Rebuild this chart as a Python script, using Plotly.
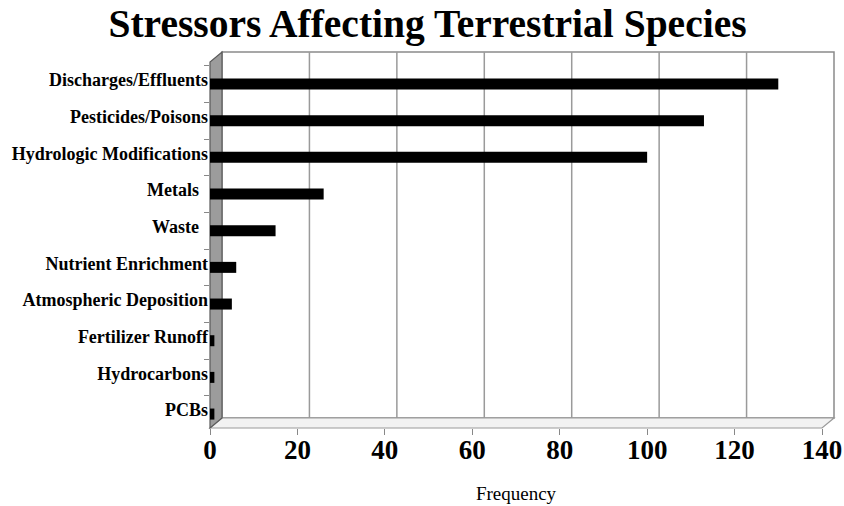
import plotly.graph_objects as go

categories = ["Discharges/Effluents", "Pesticides/Poisons", "Hydrologic Modifications",
              "Metals\u00a0\u00a0", "Waste\u00a0\u00a0", "Nutrient Enrichment", "Atmospheric Deposition",
              "Fertilizer Runoff", "Hydrocarbons", "PCBs"]
frequency = [130, 113, 100, 26, 15, 6, 5, 1, 1, 1]
x_ticks = [0, 20, 40, 60, 80, 100, 120, 140]

W, H = 844, 506
L, R, T, B = 210, 822, 62, 428
DX, DY = 12, 10
SERIF = "Liberation Serif"


def px(x):
    return (x - L) / (R - L)


def py(y):
    return (B - y) / (B - T)


shapes = []
# back wall
shapes.append(dict(type="rect", xref="paper", yref="paper",
                   x0=px(L + DX), x1=px(R + DX), y0=py(B - DY), y1=py(T - DY),
                   fillcolor="white", line=dict(color="#8a8a8a", width=1.5), layer="below"))
# gridlines on back wall
for v in x_ticks[1:-1]:
    shapes.append(dict(type="line", xref="x", xsizemode="pixel", xanchor=v, x0=DX, x1=DX,
                       yref="paper", y0=py(B - DY), y1=py(T - DY),
                       line=dict(color="#9a9a9a", width=1.5), layer="below"))
# floor
shapes.append(dict(type="path", xref="paper", yref="paper",
                   path=f"M {px(L)},{py(B)} L {px(R)},{py(B)} L {px(R+DX)},{py(B-DY)} L {px(L+DX)},{py(B-DY)} Z",
                   fillcolor="#f2f2f2", line=dict(color="#999999", width=1.2), layer="below"))
# left wall
shapes.append(dict(type="path", xref="paper", yref="paper",
                   path=f"M {px(L)},{py(B)} L {px(L)},{py(T)} L {px(L+DX)},{py(T-DY)} L {px(L+DX)},{py(B-DY)} Z",
                   fillcolor="#9c9c9c", line=dict(color="#5a5a5a", width=1.2), layer="below"))

fig = go.Figure(go.Bar(
    x=frequency, y=categories, orientation="h",
    marker=dict(color="black", line=dict(width=0)),
    width=0.3,
))

fig.update_layout(
    width=W, height=H,
    margin=dict(l=L, r=W - R, t=T, b=H - B, pad=0, autoexpand=False),
    paper_bgcolor="white", plot_bgcolor="rgba(0,0,0,0)",
    showlegend=False,
    shapes=shapes,
    title=dict(text="<b>Stressors Affecting Terrestrial Species</b>",
               font=dict(family=SERIF, size=39.5, color="black"),
               x=427.5 / W, xanchor="center", xref="container",
               y=1 - 9 / H, yanchor="top", yref="container"),
    xaxis=dict(range=[0, 140], tickvals=x_ticks, showgrid=False, zeroline=False,
               showline=False, ticks="outside", ticklen=6, tickcolor="#888888",
               automargin=False, ticklabelstandoff=-8,
               tickfont=dict(family=SERIF, size=27, color="black", weight="bold"),
               title=dict(text="Frequency", font=dict(family=SERIF, size=19, color="black"),
                          standoff=22)),
    yaxis=dict(categoryorder="array", categoryarray=categories,
               range=[9.38, -0.6], showgrid=False, zeroline=False, showline=False,
               automargin=False,
               ticks="outside", tickson="boundaries", ticklen=5, tickcolor="#888888",
               tickfont=dict(family=SERIF, size=18, color="black", weight="bold"),
               ticklabelstandoff=1, ticklabelshift=4),
)

fig.write_html("out.html", config={"displayModeBar": False},
               post_script="document.body.style.margin='0';document.body.style.padding='0';")
